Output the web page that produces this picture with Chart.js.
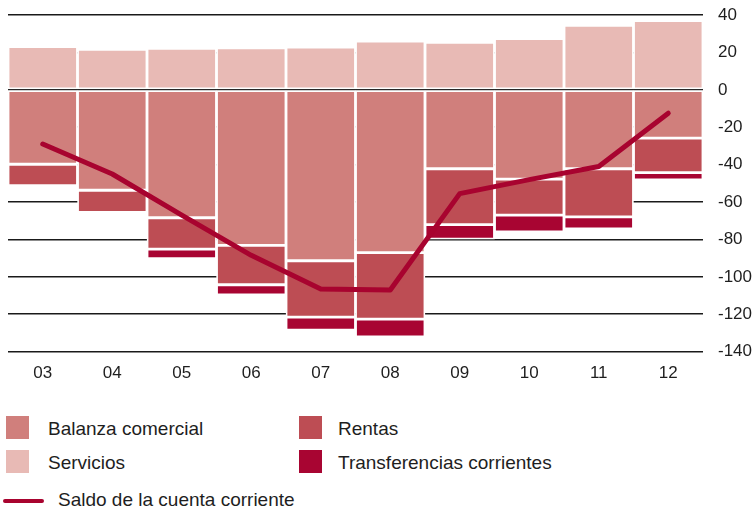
<!DOCTYPE html>
<html>
<head>
<meta charset="utf-8">
<script src="https://cdn.jsdelivr.net/npm/chart.js@4/dist/chart.umd.min.js"></script>
<style>
  html, body { margin: 0; padding: 0; background: #fff; }
  body { width: 753px; height: 512px; position: relative; overflow: hidden;
         font-family: "Liberation Sans", Arial, sans-serif; color: #1e1e1e; }
  #wrap { position: absolute; left: 0; top: 0; width: 753px; height: 395px; }
  .sw { position: absolute; width: 23px; height: 23px; }
  .lt { position: absolute; font-size: 19px; line-height: 19px; white-space: nowrap; }
  .ln { position: absolute; height: 4px; border-radius: 2px; }
</style>
</head>
<body>
<div id="wrap"><canvas id="c"></canvas></div>
<div id="legend"></div>
<script>
const categories = ['03','04','05','06','07','08','09','10','11','12'];
const balanza = [-39.8,-53.7,-68.4,-83.2,-91.4,-87.0,-42.2,-47.7,-42.2,-25.8];
const servicios = [23.1,21.7,22.2,22.4,22.9,26.1,25.4,27.4,34.5,37.0];
const rentas = [-11.5,-11.9,-16.8,-21.0,-30.1,-35.6,-29.9,-19.3,-25.7,-18.5];
const transferencias = [0,0,-5.0,-5.5,-7.0,-9.5,-7.7,-8.9,-6.4,-3.9];
const saldo = [-29,-45,-67,-88.5,-106.5,-107,-55.5,-48,-41,-12.5];
const yTicks = [40,20,0,-20,-40,-60,-80,-100,-120,-140];

const colors = {
  balanza: '#d07f7c',
  servicios: '#e8bab5',
  rentas: '#bd4d54',
  transferencias: '#a80532',
  saldo: '#a8032f'
};
const labels = {
  balanza: 'Balanza comercial',
  servicios: 'Servicios',
  rentas: 'Rentas',
  transferencias: 'Transferencias corrientes',
  saldo: 'Saldo de la cuenta corriente'
};

function barDs(key, data) {
  return {
    type: 'bar', label: labels[key], data: data,
    backgroundColor: colors[key], borderColor: '#ffffff',
    borderWidth: 1.75, borderSkipped: false,
    barPercentage: 1, categoryPercentage: 1,
    stack: 'cc', order: 1
  };
}

new Chart(document.getElementById('c'), {
  data: {
    labels: categories,
    datasets: [
      {
        type: 'line', label: labels.saldo, data: saldo,
        borderColor: colors.saldo, borderWidth: 5, pointRadius: 0,
        borderCapStyle: 'round', borderJoinStyle: 'round',
        tension: 0, fill: false, stack: 'line', order: 0
      },
      barDs('balanza', balanza),
      barDs('rentas', rentas),
      barDs('transferencias', transferencias),
      barDs('servicios', servicios)
    ]
  },
  options: {
    responsive: true, maintainAspectRatio: false, animation: false,
    layout: { padding: { left: 8, top: 15, right: 0, bottom: 0 } },
    plugins: { legend: { display: false }, tooltip: { enabled: false } },
    scales: {
      x: {
        stacked: true,
        grid: { display: false, drawTicks: false },
        border: { display: false },
        ticks: { color: '#1e1e1e', padding: 11, font: { family: 'Liberation Sans', size: 17 } },
        afterFit(s) { s.height = 43.3; }
      },
      y: {
        stacked: true, position: 'right',
        min: -140, max: 40,
        grid: { color: '#1a1a1a', lineWidth: 1.6, drawTicks: false },
        border: { display: false },
        afterBuildTicks(s) { s.ticks = yTicks.map(v => ({ value: v })); },
        ticks: { color: '#1e1e1e', padding: 15, font: { family: 'Liberation Sans', size: 17 },
                 callback: v => String(v) },
        afterFit(s) { s.width = 50; s.paddingTop = 0; s.paddingBottom = 0; }
      }
    }
  }
});

// HTML legend
const lg = document.getElementById('legend');
const items = [
  { key: 'balanza', sx: 6, sy: 416, tx: 48, ty: 419 },
  { key: 'servicios', sx: 6, sy: 450, tx: 48, ty: 453 },
  { key: 'rentas', sx: 299, sy: 416, tx: 338, ty: 419 },
  { key: 'transferencias', sx: 299, sy: 450, tx: 338, ty: 453 }
];
items.forEach(it => {
  const s = document.createElement('div');
  s.className = 'sw';
  s.style.left = it.sx + 'px'; s.style.top = it.sy + 'px';
  s.style.background = colors[it.key];
  lg.appendChild(s);
  const t = document.createElement('div');
  t.className = 'lt';
  t.style.left = it.tx + 'px'; t.style.top = it.ty + 'px';
  t.textContent = labels[it.key];
  lg.appendChild(t);
});
const l = document.createElement('div');
l.className = 'ln';
l.style.left = '3px'; l.style.top = '498.5px'; l.style.width = '41px';
l.style.background = colors.saldo;
lg.appendChild(l);
const lt = document.createElement('div');
lt.className = 'lt';
lt.style.left = '58px'; lt.style.top = '490px';
lt.textContent = labels.saldo;
lg.appendChild(lt);
</script>
</body>
</html>
